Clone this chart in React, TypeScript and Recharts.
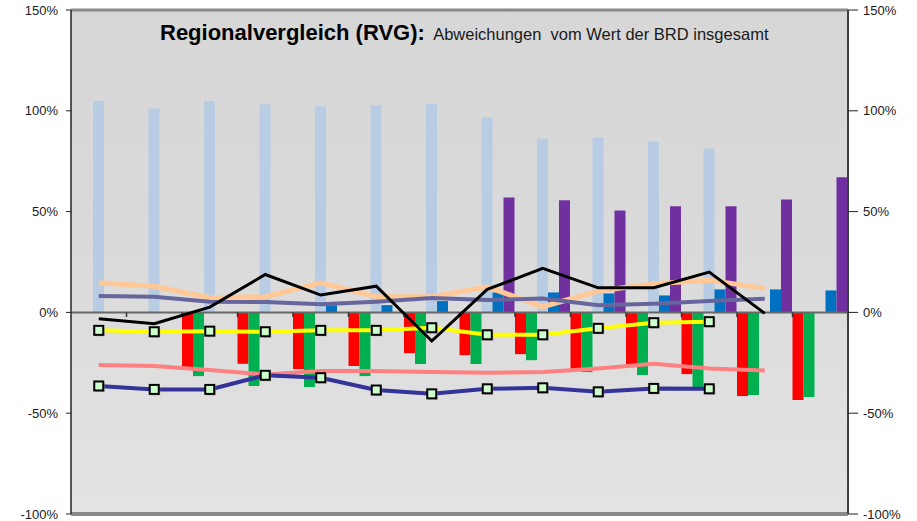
import React from "react";
import {
  ComposedChart,
  Bar,
  Line,
  XAxis,
  YAxis,
  CartesianGrid,
  ReferenceLine,
} from "recharts";

const categories = ["1", "2", "3", "4", "5", "6", "7", "8", "9", "10", "11", "12", "13", "14"];

// bars
const redVals = [null, null, -27.1, -25.5, -28.1, -26.6, -20.2, -21.2, -20.7, -28.1, -25.8, -30.6, -41.5, -43.5];
const greenVals = [null, null, -31.6, -36.5, -37.0, -31.6, -25.6, -25.6, -23.7, -29.6, -31.1, -37.0, -41.0, -42.0];
const lightBlueVals = [104.8, 101.2, 104.8, 103.2, 102.2, 102.7, 103.2, 96.7, 86.3, 86.8, 84.8, 81.3, null, null];
const darkBlueVals = [null, null, null, null, 3.5, 3.6, 5.6, 9.9, 9.9, 9.4, 8.4, 11.4, 11.4, 10.9];
const purpleVals = [null, null, null, null, null, null, null, 57.0, 55.6, 50.6, 52.6, 52.6, 56.0, 67.0];

// lines
const blackVals = [-3.1, -5.6, 2.6, 18.8, 8.6, 13.0, -14.2, 11.4, 21.8, 12.2, 12.2, 20.0, -0.5, null];
const peachVals = [14.7, 13.0, 7.3, 7.8, 14.7, 7.8, 7.8, 12.7, 2.8, 10.6, 14.2, 16.0, 11.9, null];
const slateVals = [8.1, 7.8, 5.3, 5.1, 4.1, 5.3, 7.1, 6.1, 6.9, 3.5, 4.3, 5.6, 6.8, null];
const yellowVals = [-8.9, -9.6, -9.3, -9.6, -8.9, -8.9, -7.6, -11.1, -11.1, -7.9, -5.1, -4.6, null, null];
const pinkVals = [-26.1, -26.6, -28.6, -30.8, -29.1, -29.1, -29.6, -29.9, -29.6, -27.8, -25.5, -27.8, -28.8, null];
const navyVals = [-36.5, -38.2, -38.2, -31.2, -32.4, -38.5, -40.4, -37.9, -37.4, -39.4, -37.7, -37.9, null, null];

const yTicks = [-100, -50, 0, 50, 100, 150];

const data = categories.map((c, i) => ({
  cat: c,
  red: redVals[i],
  green: greenVals[i],
  lightBlue: lightBlueVals[i],
  darkBlue: darkBlueVals[i],
  purple: purpleVals[i],
  black: blackVals[i],
  peach: peachVals[i],
  slate: slateVals[i],
  yellow: yellowVals[i],
  pink: pinkVals[i],
  navy: navyVals[i],
}));

const font = "'Liberation Sans', Arial, sans-serif";

const SquareDot = (props: any) => {
  const { cx, cy, index, value } = props;
  if (cx == null || cy == null || value == null) return <g key={`e${index}`} />;
  return (
    <g key={`d${index}`}>
      <rect x={cx - 3} y={cy - 3} width={9} height={9} fill="#9a9a9a" opacity={0.6} />
      <rect x={cx - 4.5} y={cy - 4.5} width={9} height={9} fill="#ccffcc" stroke="#000" strokeWidth={2} />
    </g>
  );
};

// right axis ticks cross the axis line
const RightTick = (props: any) => {
  const { x, y, payload } = props;
  return (
    <g>
      <line x1={x - 12} x2={x - 2} y1={y} y2={y} stroke="#222" />
      <text x={x + 3} y={y} dy="0.355em" textAnchor="start" fontSize={13} fill="#1a1a1a" fontFamily={font}>
        {`${payload.value}%`}
      </text>
    </g>
  );
};

const tickStyle = { fontSize: 13, fill: "#1a1a1a", fontFamily: font };

export default function App() {
  return (
    <div style={{ position: "absolute", left: 0, top: 0, width: 917, height: 521, background: "#fff" }}>
      <div
        style={{
          position: "absolute",
          left: 71,
          top: 10,
          width: 777,
          height: 504,
          background: "linear-gradient(#d7d7d7, #d9d9d9 40%, #e3e3e3)",
        }}
      />
      <div style={{ position: "absolute", left: 0, top: 0 }}>
        <ComposedChart
          width={917}
          height={521}
          data={data}
          margin={{ top: 10, right: 0, bottom: 7, left: 0 }}
          barCategoryGap={0}
          barGap={0}
        >
          <CartesianGrid vertical={false} stroke="#bcbcbc" strokeWidth={1} />
          <XAxis dataKey="cat" hide />
          <YAxis
            yAxisId="left"
            domain={[-100, 150]}
            ticks={yTicks}
            interval={0}
            width={71}
            tickSize={5}
            tickMargin={8}
            tick={tickStyle}
            tickFormatter={(v: number) => `${v}%`}
            axisLine={{ stroke: "#222", strokeWidth: 1.5 }}
            tickLine={{ stroke: "#222" }}
            allowDataOverflow
          />
          <YAxis
            yAxisId="right"
            orientation="right"
            domain={[-100, 150]}
            ticks={yTicks}
            interval={0}
            width={69}
            tickSize={5}
            tickMargin={7}
            tick={RightTick}
            axisLine={{ stroke: "#404040", strokeWidth: 2 }}
            tickLine={false}
            allowDataOverflow
          />
          <Bar yAxisId="left" dataKey="red" fill="#ff0000" isAnimationActive={false} />
          <Bar yAxisId="left" dataKey="green" fill="#00b050" isAnimationActive={false} />
          <Bar yAxisId="left" dataKey="lightBlue" fill="#b8cce4" isAnimationActive={false} />
          <Bar yAxisId="left" dataKey="darkBlue" fill="#0070c0" isAnimationActive={false} />
          <Bar yAxisId="left" dataKey="purple" fill="#7030a0" isAnimationActive={false} />
          <ReferenceLine yAxisId="left" y={0} stroke="#686868" strokeWidth={2} />
          <ReferenceLine yAxisId="left" y={150} stroke="#8a8a8a" strokeWidth={3} />
          <ReferenceLine yAxisId="left" y={-100} stroke="#8a8a8a" strokeWidth={4} />
          {categories.slice(1).map((c) => (
            <ReferenceLine
              key={`t${c}`}
              yAxisId="left"
              position="start"
              segment={[
                { x: c, y: 0 },
                { x: c, y: -2.3 },
              ]}
              stroke="#333"
              strokeWidth={1.5}
            />
          ))}
          <Line yAxisId="left" dataKey="peach" stroke="#ffc896" strokeWidth={5} dot={false} isAnimationActive={false} />
          <Line yAxisId="left" dataKey="slate" stroke="#66669c" strokeWidth={4} dot={false} isAnimationActive={false} />
          <Line yAxisId="left" dataKey="pink" stroke="#ff8080" strokeWidth={4} dot={false} isAnimationActive={false} />
          <Line yAxisId="left" dataKey="yellow" stroke="#ffff00" strokeWidth={4} dot={SquareDot} isAnimationActive={false} />
          <Line yAxisId="left" dataKey="navy" stroke="#333399" strokeWidth={4} dot={SquareDot} isAnimationActive={false} />
          <Line yAxisId="left" dataKey="black" stroke="#000" strokeWidth={3} dot={false} isAnimationActive={false} />
        </ComposedChart>
      </div>
      <div
        style={{
          position: "absolute",
          left: 160,
          top: 20,
          fontFamily: font,
          color: "#000",
          whiteSpace: "pre",
          lineHeight: "25px",
        }}
      >
        <span style={{ fontSize: 22, fontWeight: "bold" }}>Regionalvergleich (RVG):</span>
        <span style={{ fontSize: 16.5, color: "#1a1a1a" }}>{"  Abweichungen  vom Wert der BRD insgesamt"}</span>
      </div>
    </div>
  );
}
